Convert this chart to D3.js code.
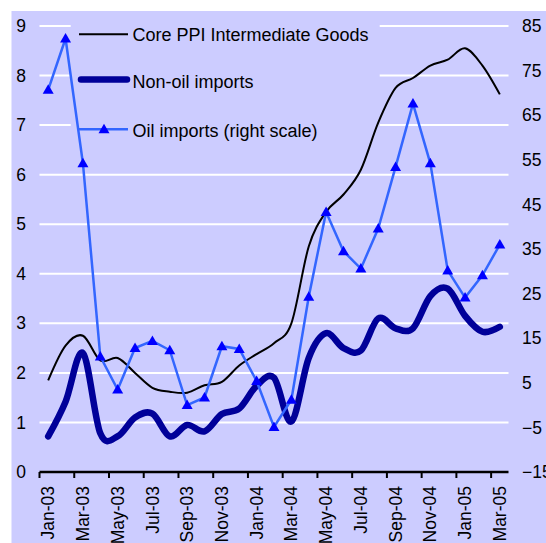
<!DOCTYPE html>
<html>
<head>
<meta charset="utf-8">
<script src="https://cdn.jsdelivr.net/npm/d3@7"></script>
<style>
  body { margin: 0; background: #fff; }
  text { font-family: "Liberation Sans", Arial, sans-serif; fill: #000; }
</style>
</head>
<body>
<svg id="chart" width="546" height="543"></svg>
<script>
// monthly data, Jan-03 .. Mar-05
const months = ["Jan-03","Feb-03","Mar-03","Apr-03","May-03","Jun-03","Jul-03","Aug-03","Sep-03",
  "Oct-03","Nov-03","Dec-03","Jan-04","Feb-04","Mar-04","Apr-04","May-04","Jun-04","Jul-04",
  "Aug-04","Sep-04","Oct-04","Nov-04","Dec-04","Jan-05","Feb-05","Mar-05"];

const corePPI = [1.85, 2.55, 2.75, 2.25, 2.3, 2.0, 1.7, 1.62, 1.6, 1.75, 1.82, 2.15, 2.38, 2.6,
  3.0, 4.55, 5.25, 5.6, 6.1, 7.05, 7.75, 7.95, 8.2, 8.32, 8.55, 8.2, 7.62];

const nonOil = [0.72, 1.42, 2.4, 0.78, 0.72, 1.1, 1.18, 0.72, 0.95, 0.82, 1.17, 1.28, 1.74, 1.9,
  1.02, 2.3, 2.8, 2.5, 2.45, 3.1, 2.9, 2.9, 3.55, 3.7, 3.15, 2.83, 2.93];

const oil = [70.7, 82.2, 54.2, 10.9, 3.5, 12.8, 14.4, 12.3, 0, 1.7, 13.2, 12.6, 5.4, -4.9, 1.2,
  24.3, 43.3, 34.5, 30.6, 39.6, 53.4, 67.6, 54.2, 30.2, 24.1, 29.1, 36.0];

const leftTicks = [0, 1, 2, 3, 4, 5, 6, 7, 8, 9];
const rightTicks = [-15, -5, 5, 15, 25, 35, 45, 55, 65, 75, 85];
const xLabels = months.filter((m, i) => i % 2 === 0);

const legendNames = ["Core PPI Intermediate Goods", "Non-oil imports", "Oil imports (right scale)"];

const svg = d3.select("#chart");
const bg = "#ccccff";

svg.append("rect")
  .attr("x", 11.5).attr("y", 11)
  .attr("width", 546 - 11.5).attr("height", 543 - 11)
  .attr("fill", bg);

const x = d3.scaleBand().domain(months).range([39.5, 508.5]).padding(0);
const yL = d3.scaleLinear().domain([0, 9]).range([472, 26]);
const yR = d3.scaleLinear().domain([-15, 85]).range([472, 26]);
const cx = d => x(d) + x.bandwidth() / 2;

// gridlines
svg.append("g")
  .selectAll("line")
  .data(leftTicks.slice(1))
  .join("line")
  .attr("x1", 39.5).attr("x2", 508.5)
  .attr("y1", d => yL(d)).attr("y2", d => yL(d))
  .attr("stroke", "#fff").attr("stroke-width", 2);

// legend box hides the gridlines behind it
svg.append("rect")
  .attr("x", 70.7).attr("y", 14)
  .attr("width", 309).attr("height", 136)
  .attr("fill", bg);

// left axis labels
const axL = svg.append("g")
  .attr("transform", "translate(26,0)")
  .call(d3.axisLeft(yL).tickValues(leftTicks).tickSize(0).tickPadding(0).tickFormat(d3.format("d")));
axL.select(".domain").remove();
axL.selectAll("text").attr("font-size", 17.5).attr("font-family", null);

// right axis labels
const axR = svg.append("g")
  .attr("transform", "translate(522,0)")
  .call(d3.axisRight(yR).tickValues(rightTicks).tickSize(0).tickPadding(0).tickFormat(d3.format("d")));
axR.select(".domain").remove();
axR.selectAll("text").attr("font-size", 17.5).attr("font-family", null);

// x axis
const xAxis = svg.append("g");
xAxis.append("line")
  .attr("x1", 39.5).attr("x2", 508.5)
  .attr("y1", 472).attr("y2", 472)
  .attr("stroke", "#000").attr("stroke-width", 2.5);
xAxis.selectAll(".tick")
  .data(xLabels)
  .join("line")
  .attr("class", "tick")
  .attr("x1", d => x(d)).attr("x2", d => x(d))
  .attr("y1", 472).attr("y2", 478)
  .attr("stroke", "#000").attr("stroke-width", 2);
xAxis.selectAll("text")
  .data(xLabels)
  .join("text")
  .attr("transform", d => `translate(${cx(d)},486) rotate(-90)`)
  .attr("text-anchor", "end")
  .attr("dy", "0.35em")
  .attr("font-size", 17.5)
  .text(d => d);

// legend
const legendY = [34.5, 82, 130.5];
const legendLineY = [34.3, 79.5, 129.3];
const legend = svg.append("g");
legend.append("line")
  .attr("x1", 79).attr("x2", 128).attr("y1", legendLineY[0]).attr("y2", legendLineY[0])
  .attr("stroke", "#000").attr("stroke-width", 2);
legend.append("line")
  .attr("x1", 81).attr("x2", 127).attr("y1", legendLineY[1]).attr("y2", legendLineY[1])
  .attr("stroke", "#000099").attr("stroke-width", 6.5).attr("stroke-linecap", "round");
legend.append("line")
  .attr("x1", 78).attr("x2", 128).attr("y1", legendLineY[2]).attr("y2", legendLineY[2])
  .attr("stroke", "#3366ff").attr("stroke-width", 2.5);
legend.selectAll("text")
  .data(legendNames)
  .join("text")
  .attr("x", 132.5)
  .attr("y", (d, i) => legendY[i])
  .attr("dy", "0.35em")
  .attr("font-size", 18)
  .text(d => d);

const tri = "M0,-5.5L5.5,4L-5.5,4Z";
legend.append("path")
  .attr("d", tri)
  .attr("transform", `translate(104,${legendLineY[2]})`)
  .attr("fill", "#0000ff");

// series
const smooth = d3.curveCardinal.tension(0);

svg.append("path")
  .datum(nonOil)
  .attr("fill", "none")
  .attr("stroke", "#000099")
  .attr("stroke-width", 6.5)
  .attr("stroke-linecap", "round")
  .attr("stroke-linejoin", "round")
  .attr("d", d3.line().x((d, i) => cx(months[i])).y(d => yL(d)).curve(smooth));

svg.append("path")
  .datum(corePPI)
  .attr("fill", "none")
  .attr("stroke", "#000")
  .attr("stroke-width", 2)
  .attr("d", d3.line().x((d, i) => cx(months[i])).y(d => yL(d)).curve(smooth));

svg.append("path")
  .datum(oil)
  .attr("fill", "none")
  .attr("stroke", "#3366ff")
  .attr("stroke-width", 2.5)
  .attr("d", d3.line().x((d, i) => cx(months[i])).y(d => yR(d)));

svg.append("g")
  .selectAll("path")
  .data(oil)
  .join("path")
  .attr("d", tri)
  .attr("transform", (d, i) => `translate(${cx(months[i])},${yR(d)})`)
  .attr("fill", "#0000ff");
</script>
</body>
</html>
